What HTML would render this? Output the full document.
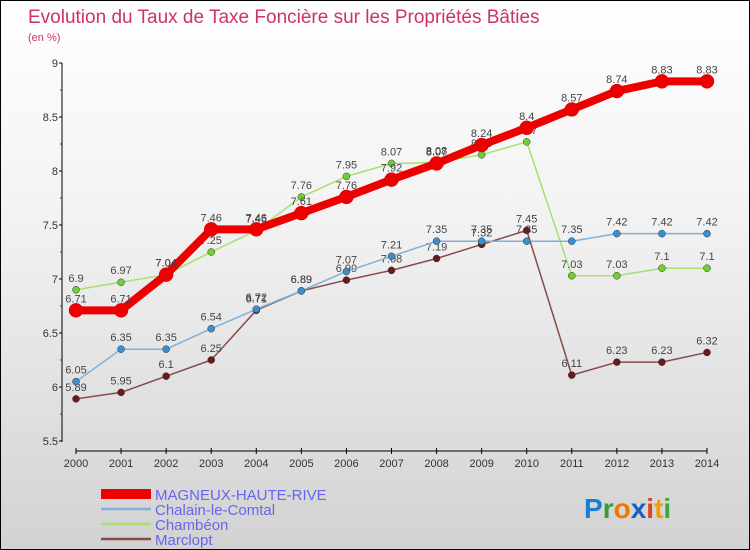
<!DOCTYPE html>
<html><head><meta charset="utf-8"><style>
body{margin:0}
#c{width:750px;height:550px;position:relative;box-sizing:border-box;border:1px solid #000;background:linear-gradient(#fff,#f2f2f2 40%,#d2d2d2);overflow:hidden;font-family:"Liberation Sans",sans-serif}
</style></head><body>
<div id="c">
<svg id="s" width="750" height="550" style="position:absolute;left:0;top:0">
<text x="27" y="22" font-size="19" fill="#cc3366">Evolution du Taux de Taxe Foncière sur les Propriétés Bâties</text>
<text x="27" y="40" font-size="11" fill="#cc3366">(en %)</text>
<g id="axes"></g><g id="series"></g><g id="legend"></g>
<text x="583" y="517" font-size="28" font-weight="bold"><tspan fill="#1a7fd4">P</tspan><tspan fill="#3a9a3a">r</tspan><tspan fill="#f07800">o</tspan><tspan fill="#1a5fc4">x</tspan><tspan fill="#e04020">i</tspan><tspan fill="#f0a000">t</tspan><tspan fill="#3aaa3a">i</tspan></text>
</svg>
</div>
<script>
const years=[2000,2001,2002,2003,2004,2005,2006,2007,2008,2009,2010,2011,2012,2013,2014];
const yTicks=[5.5,6,6.5,7,7.5,8,8.5,9];
const magneux=[6.71,6.71,7.04,7.46,7.46,7.61,7.76,7.92,8.07,8.24,8.4,8.57,8.74,8.83,8.83];
const chalain=[6.05,6.35,6.35,6.54,6.72,6.89,7.07,7.21,7.35,7.35,7.35,7.35,7.42,7.42,7.42];
const chambeon=[6.9,6.97,7.04,7.25,7.45,7.76,7.95,8.07,8.08,8.15,8.27,7.03,7.03,7.1,7.1];
const marclopt=[5.89,5.95,6.1,6.25,6.71,6.89,6.99,7.08,7.19,7.32,7.45,6.11,6.23,6.23,6.32];
const names=["MAGNEUX-HAUTE-RIVE","Chalain-le-Comtal","Chambéon","Marclopt"];
const NS="http://www.w3.org/2000/svg";
const X=i=>75+i*(706-75)/(years.length-1);
const Y=v=>440-(v-5.5)*(440-62)/3.5;
function mk(tag,attrs,parent){const e=document.createElementNS(NS,tag);for(const k in attrs)e.setAttribute(k,attrs[k]);parent.appendChild(e);return e;}
const ax=document.getElementById('axes');
let yl=mk('line',{x1:61,y1:62,x2:61,y2:441,stroke:'#000'},ax);


yTicks.forEach(t=>{mk('line',{x1:58,y1:Y(t),x2:61,y2:Y(t),stroke:'#000'},ax);
 let tx=mk('text',{x:57,y:Y(t)+4,'font-size':11,fill:'#333','text-anchor':'end'},ax);tx.textContent=t;
 
 
 if(t<9) mk('line',{x1:59,y1:Y(t+0.25),x2:61,y2:Y(t+0.25),stroke:'#c00'},ax);});
let xl=mk('line',{x1:75,y1:450,x2:706,y2:450,stroke:'#000'},ax);


years.forEach((y,i)=>{mk('line',{x1:X(i),y1:447,x2:X(i),y2:453,stroke:'#000'},ax);
 let tx=mk('text',{x:X(i),y:466,'font-size':11,fill:'#333','text-anchor':'middle'},ax);tx.textContent=y;
 
 });
const sg=document.getElementById('series');
const defs=[[magneux,'#ee0000',8,7,'#ee0000'],[chalain,'#7fb0d8',1.5,3.5,'#3a8fd0'],[chambeon,'#a8e070',1.5,3.5,'#70d030'],[marclopt,'#8a4a4a',1.5,3.5,'#6a1a1a']];
[3,2,1,0].forEach(k=>{const [d,c,w,r,fc]=defs[k];
 const g=mk('g',{},sg);
 
 
 mk('polyline',{points:d.map((v,i)=>X(i)+','+Y(v)).join(' '),fill:'none',stroke:c,'stroke-width':w,'stroke-linejoin':'round'},g);
 d.forEach((v,i)=>{let p=mk('circle',{cx:X(i),cy:Y(v),r:r,fill:fc,stroke:k==0?'#cc0000':'#333','stroke-width':0.5},g);
  
  
  let t=mk('text',{x:X(i),y:Y(v)-8,'font-size':11,fill:'#444','text-anchor':'middle'},g);t.textContent=v;
  
  });
});
const lg=document.getElementById('legend');
defs.forEach((d,k)=>{const y=[493,508,523,538][k];
 mk('line',{x1:100,y1:y,x2:150,y2:y,stroke:d[1],'stroke-width':k==0?10:2.5},lg);
 let t=mk('text',{x:154,y:y+6,'font-size':15,fill:'#6666ee'},lg);t.textContent=names[k];
 
 });
</script>
</body></html>
